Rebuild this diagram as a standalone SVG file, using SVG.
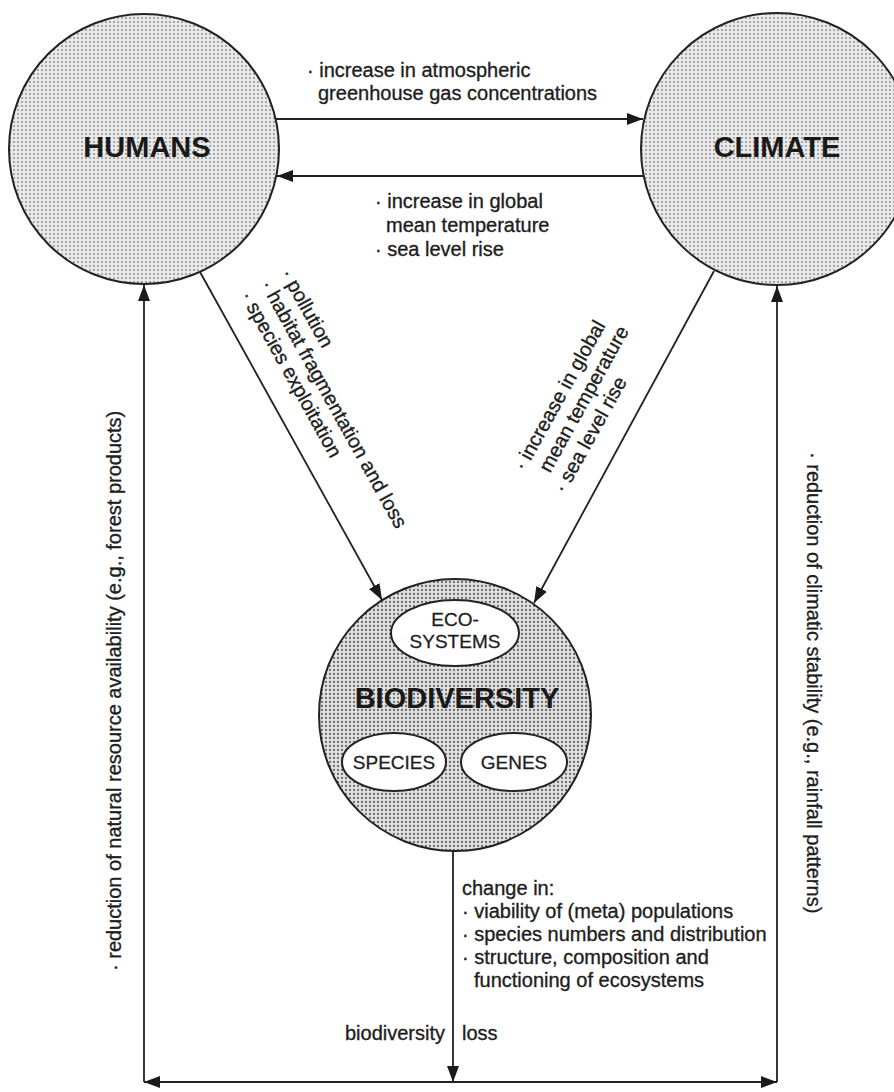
<svg xmlns="http://www.w3.org/2000/svg" width="894" height="1092" viewBox="0 0 894 1092">
  <style>
    .lbl { font-family: "Liberation Sans", Arial, sans-serif; font-size: 20px; fill: #1e1e1e; stroke: #1e1e1e; stroke-width: 0.35; }
    .big { font-family: "Liberation Sans", Arial, sans-serif; font-size: 29px; font-weight: bold; fill: #1a1a1a; text-anchor: middle; }
    .sub { font-family: "Liberation Sans", Arial, sans-serif; font-size: 19px; fill: #1e1e1e; stroke: #1e1e1e; stroke-width: 0.3; text-anchor: middle; }
    .node { stroke: #222; stroke-width: 2; }
    .inner { fill: #ffffff; stroke: #222; stroke-width: 2; }
    .conn { fill: none; stroke: #222; stroke-width: 1.8; }
  </style>
  <defs>
    <pattern id="dots" width="4" height="4" patternUnits="userSpaceOnUse">
      <rect width="4" height="4" fill="#e9e9e9"/>
      <circle cx="2" cy="2" r="0.95" fill="#8c8c8c"/>
    </pattern>
    <pattern id="dotsDark" width="4" height="4" patternUnits="userSpaceOnUse">
      <rect width="4" height="4" fill="#e2e2e2"/>
      <circle cx="2" cy="2" r="1.15" fill="#6e6e6e"/>
    </pattern>
    <marker id="arrow" markerUnits="userSpaceOnUse" markerWidth="16" markerHeight="12" refX="16" refY="6" orient="auto-start-reverse">
      <path d="M0,0 L16,6 L0,12 z" fill="#1a1a1a"/>
    </marker>
  </defs>

  <g id="humans">
    <circle class="node" cx="144" cy="149" r="135" fill="url(#dots)"/>
    <text class="big" x="147" y="157">HUMANS</text>
  </g>

  <g id="climate">
    <circle class="node" cx="777" cy="149" r="136" fill="url(#dots)"/>
    <text class="big" x="777" y="157">CLIMATE</text>
  </g>

  <g id="biodiversity">
    <circle class="node" cx="455" cy="715" r="136" fill="url(#dotsDark)"/>
    <ellipse class="inner" cx="455" cy="633" rx="64" ry="33"/>
    <text class="sub" x="455" y="626">ECO-</text>
    <text class="sub" x="455" y="648">SYSTEMS</text>
    <text class="big" x="457" y="708">BIODIVERSITY</text>
    <ellipse class="inner" cx="394" cy="762" rx="52" ry="29"/>
    <text class="sub" x="394" y="769">SPECIES</text>
    <ellipse class="inner" cx="514" cy="762" rx="53" ry="29"/>
    <text class="sub" x="514" y="769">GENES</text>
  </g>

  <g id="connectors">
    <line class="conn" x1="276" y1="119" x2="643" y2="119" marker-end="url(#arrow)"/>
    <line class="conn" x1="643" y1="176" x2="277" y2="176" marker-end="url(#arrow)"/>
    <line class="conn" x1="200" y1="272" x2="382" y2="600" marker-end="url(#arrow)"/>
    <line class="conn" x1="714" y1="271" x2="534" y2="603" marker-end="url(#arrow)"/>
    <line class="conn" x1="453" y1="851" x2="453" y2="1082" marker-end="url(#arrow)"/>
    <line class="conn" x1="144" y1="1082" x2="777" y2="1082" marker-start="url(#arrow)" marker-end="url(#arrow)"/>
    <line class="conn" x1="144" y1="1082" x2="144" y2="285" marker-end="url(#arrow)"/>
    <line class="conn" x1="777" y1="1082" x2="777" y2="286" marker-end="url(#arrow)"/>
  </g>

  <g id="labels">
    <text class="lbl" x="307" y="77">· increase in atmospheric</text>
    <text class="lbl" x="318" y="100">greenhouse gas concentrations</text>

    <text class="lbl" x="375" y="208">· increase in global</text>
    <text class="lbl" x="386" y="232">mean temperature</text>
    <text class="lbl" x="375" y="256">· sea level rise</text>

    <g transform="translate(280.4,273.5) rotate(61)">
      <text class="lbl" x="0" y="0">· pollution</text>
      <text class="lbl" x="0" y="23">· habitat fragmentation and loss</text>
      <text class="lbl" x="0" y="46">· species exploitation</text>
    </g>

    <g transform="translate(524.6,472.1) rotate(-61)">
      <text class="lbl" x="0" y="0">· increase in global</text>
      <text class="lbl" x="11" y="23">mean temperature</text>
      <text class="lbl" x="0" y="46">· sea level rise</text>
    </g>

    <text class="lbl" transform="translate(121,971) rotate(-90)">· reduction of natural resource availability (e.g., forest products)</text>
    <text class="lbl" transform="translate(807,452) rotate(90)">· reduction of climatic stability (e.g., rainfall patterns)</text>

    <text class="lbl" x="462" y="895">change in:</text>
    <text class="lbl" x="462" y="918">· viability of (meta) populations</text>
    <text class="lbl" x="462" y="941">· species numbers and distribution</text>
    <text class="lbl" x="462" y="964">· structure, composition and</text>
    <text class="lbl" x="474" y="987">functioning of ecosystems</text>

    <text class="lbl" x="445" y="1040" text-anchor="end">biodiversity</text>
    <text class="lbl" x="462" y="1040">loss</text>
  </g>
</svg>
